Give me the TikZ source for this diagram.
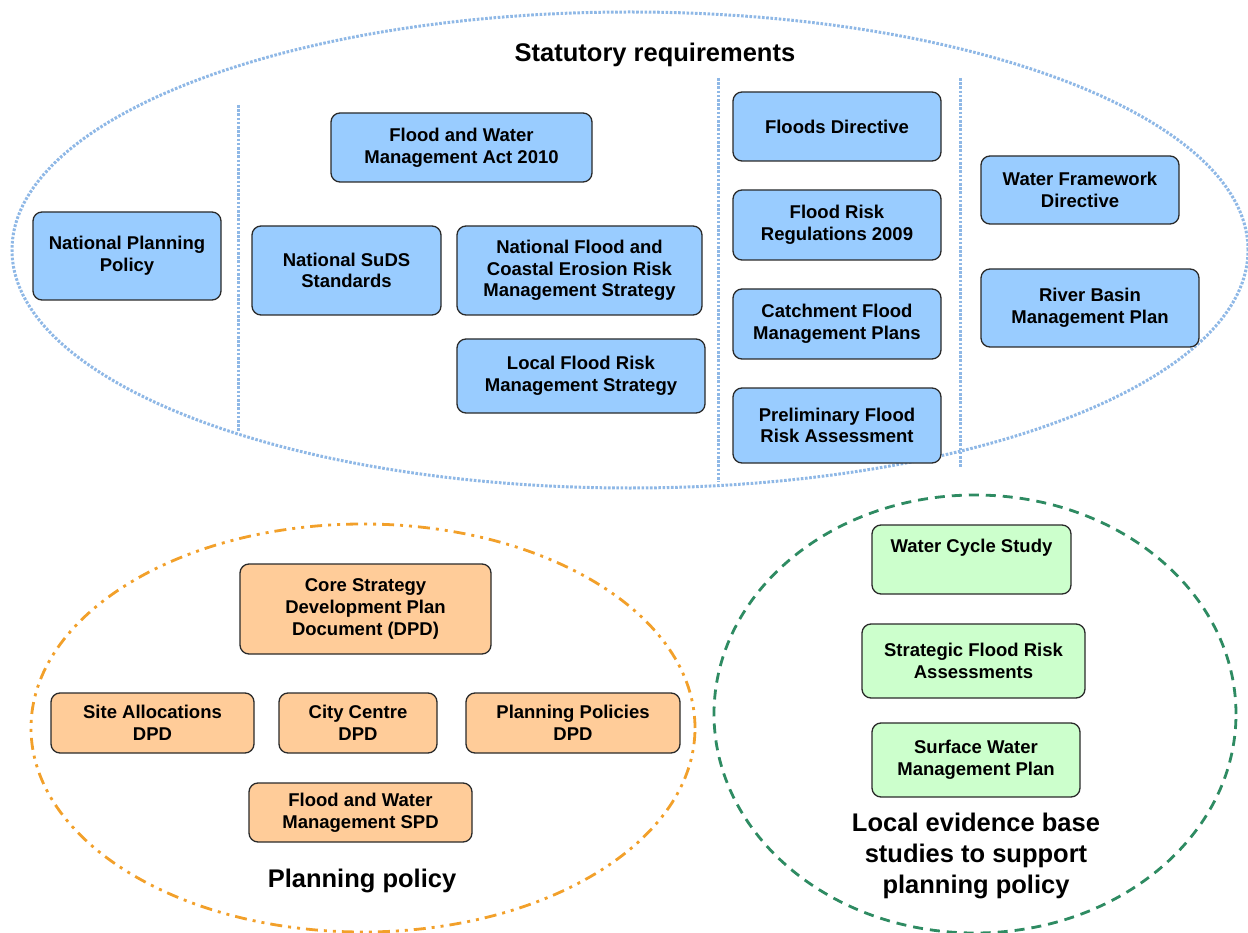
\documentclass[tikz,border=0pt]{standalone}
\usepackage{fontspec}
\setmainfont{Liberation Sans}
\definecolor{bluefill}{HTML}{99CCFF}
\definecolor{orangefill}{HTML}{FFCC99}
\definecolor{greenfill}{HTML}{CCFFCC}
\definecolor{dotblue}{HTML}{8FB8E6}
\definecolor{dashorange}{HTML}{F2A02A}
\definecolor{dashgreen}{HTML}{2E8B62}
\definecolor{boxline}{HTML}{2A2A2A}
\tikzset{
  box/.style={draw=boxline, line width=1.3pt, rounded corners=9pt, align=center,
    inner sep=0pt, font=\bfseries\fontsize{18.5}{21.7}\selectfont},
  bluebox/.style={box, fill=bluefill},
  orangebox/.style={box, fill=orangefill},
  greenbox/.style={box, fill=greenfill},
  dotline/.style={draw=dotblue, line width=3pt, dash pattern=on 2.6pt off 1.6pt},
  orangeline/.style={draw=dashorange, line width=2.8pt, dash pattern=on 12pt off 6pt on 3pt off 6pt on 3pt off 6pt},
  greenline/.style={draw=dashgreen, line width=2.8pt, dash pattern=on 10pt off 7pt},
  bigtitle/.style={align=center, font=\bfseries\fontsize{25.5}{31}\selectfont}
}
\begin{document}
\begin{tikzpicture}[x=1pt,y=-1pt]
\useasboundingbox (0,0) rectangle (1248,933);
% group outlines
\draw[dotline] (630,250) ellipse [x radius=618pt, y radius=238pt];
\draw[orangeline] (363,728) ellipse [x radius=332pt, y radius=204pt];
\draw[greenline] (975,714) ellipse [x radius=261pt, y radius=219pt];
% separators
\coordinate (s1t) at (238,105); \coordinate (s1b) at (238,432);
\coordinate (s2t) at (718,78);  \coordinate (s2b) at (718,482);
\coordinate (s3t) at (960,78);  \coordinate (s3b) at (960,468);
\draw[dotline] (s1t) -- (s1b);
\draw[dotline] (s2t) -- (s2b);
\draw[dotline] (s3t) -- (s3b);
% titles
\node[bigtitle] (tstat) at (655,55) {Statutory requirements};
\node[bigtitle] (tplan) at (362,881) {Planning policy};
\node[bigtitle] (tlocal) at (976,856) {Local evidence base\\studies to support\\planning policy};
% statutory boxes
\node[bluebox, minimum width=188pt, minimum height=88pt] (npp) at (127,256) {National Planning\\Policy};
\node[bluebox, minimum width=189pt, minimum height=89pt] (suds) at (346.5,270.5) {National SuDS\\Standards};
\node[bluebox, minimum width=261pt, minimum height=69pt] (fwma) at (461.5,147.5) {Flood and Water\\Management Act 2010};
\node[bluebox, minimum width=245pt, minimum height=89pt] (nfcerm) at (579.5,270.5) {National Flood and\\Coastal Erosion Risk\\Management Strategy};
\node[bluebox, minimum width=248pt, minimum height=74pt] (lfrms) at (581,376) {Local Flood Risk\\Management Strategy};
\node[bluebox, minimum width=208pt, minimum height=69pt] (fd) at (837,126.5) {Floods Directive};
\node[bluebox, minimum width=208pt, minimum height=70pt] (frr) at (837,225) {Flood Risk\\Regulations 2009};
\node[bluebox, minimum width=208pt, minimum height=70pt] (cfmp) at (837,324) {Catchment Flood\\Management Plans};
\node[bluebox, minimum width=208pt, minimum height=75pt] (pfra) at (837,425.5) {Preliminary Flood\\Risk Assessment};
\node[bluebox, minimum width=198pt, minimum height=68pt] (wfd) at (1080,190) {Water Framework\\Directive};
\node[bluebox, minimum width=218pt, minimum height=78pt] (rbmp) at (1090,308) {River Basin\\Management Plan};
% planning policy boxes
\node[orangebox, minimum width=251pt, minimum height=90pt] (core) at (365.5,609) {Core Strategy\\Development Plan\\Document (DPD)};
\node[orangebox, minimum width=203pt, minimum height=60pt] (site) at (152.5,723) {Site Allocations\\DPD};
\node[orangebox, minimum width=158pt, minimum height=60pt] (city) at (358,723) {City Centre\\DPD};
\node[orangebox, minimum width=214pt, minimum height=60pt] (ppol) at (573,723) {Planning Policies\\DPD};
\node[orangebox, minimum width=223pt, minimum height=59pt] (fwmspd) at (360.5,812.5) {Flood and Water\\Management SPD};
% local evidence boxes
\node[greenbox, minimum width=199pt, minimum height=69pt] (wcs) at (971.5,559.5) {Water Cycle Study\\[5pt]\mbox{}};
\node[greenbox, minimum width=223pt, minimum height=74pt] (sfra) at (973.5,661) {Strategic Flood Risk\\Assessments};
\node[greenbox, minimum width=208pt, minimum height=74pt] (swmp) at (976,760) {Surface Water\\Management Plan};
\end{tikzpicture}
\end{document}
